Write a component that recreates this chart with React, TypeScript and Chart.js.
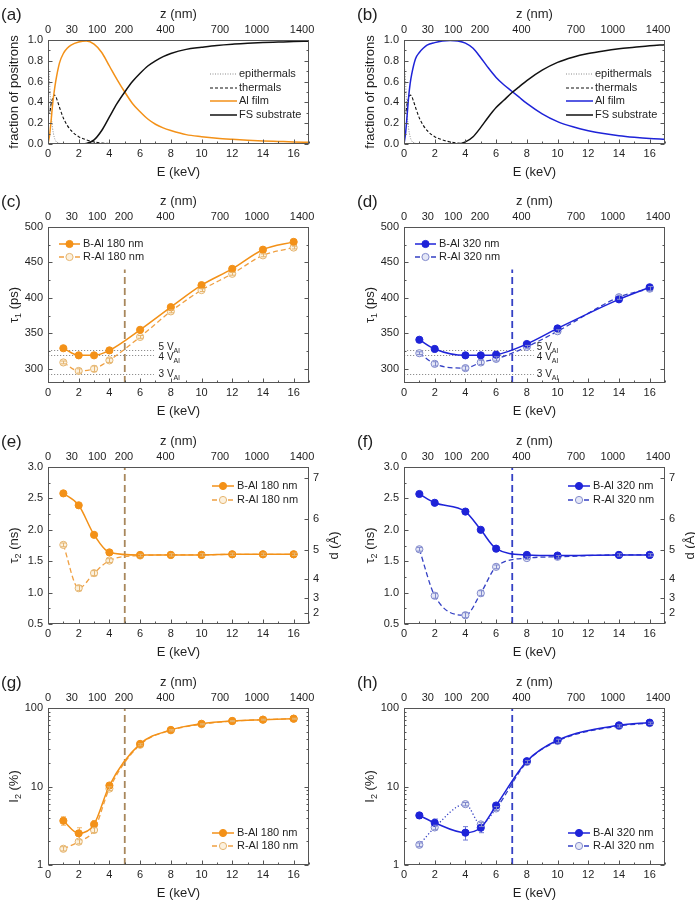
import React, { useEffect, useRef } from 'react';
import { Chart, registerables } from 'chart.js';

Chart.register(...registerables);

const FONT = '"Liberation Sans", Arial, Helvetica, sans-serif';
const TXT = '#1f1f1f';
const FRAME = '#555555';

Chart.defaults.font.family = FONT;
Chart.defaults.color = TXT;

// ---------------- colours ----------------
const ORANGE = '#F39118';
const ORANGE_DASH = '#F0A042';
const ORANGE_OPEN_STROKE = '#E5B570';
const ORANGE_OPEN_FILL = '#FCF1DE';
const ORANGE_ERR = '#F2B66A';
const BROWN = '#A8875C';
const BLUE = '#1E23D8';
const BLUE_DASH = '#3440C4';
const BLUE_OPEN_STROKE = '#8189CC';
const BLUE_OPEN_FILL = '#E4E7F6';
const BLUE_ERR = '#6F78D6';
const BLACK = '#111111';
const GREY = '#8A8A8A';

// ---------------- axis ticks ----------------
const xTickValues = [0, 2, 4, 6, 8, 10, 12, 14, 16];
const zTickLabels = ['0', '30', '100', '200', '400', '700', '1000', '1400'];
const zTickEnergy = [0, 1.55, 3.2, 4.95, 7.65, 11.2, 13.6, 16.55];
const fracTicks = [0, 0.2, 0.4, 0.6, 0.8, 1.0];
const tau1Ticks = [300, 350, 400, 450, 500];
const tau2Ticks = [0.5, 1.0, 1.5, 2.0, 2.5, 3.0];
const i2Ticks = [1, 10, 100];
const dTickLabels = ['2', '3', '4', '5', '6', '7'];
const dTickTau2 = [0.68, 0.91, 1.22, 1.68, 2.17, 2.83];

// ---------------- (a),(b) stopping fractions ----------------
const eEpi = [0, 0.05, 0.1, 0.2, 0.3, 0.4, 0.5, 0.7, 1.0, 2, 17];
const epithermals = [0.5, 0.72, 0.6, 0.3, 0.15, 0.07, 0.03, 0.01, 0.002, 0, 0];
const eTherm = [0, 0.05, 0.1, 0.2, 0.3, 0.4, 0.5, 0.6, 0.8, 1.0, 1.25, 1.5, 2, 2.5, 3, 3.5, 4, 5, 6, 17];
const thermals = [0.9, 0.3, 0.3, 0.38, 0.44, 0.47, 0.46, 0.42, 0.33, 0.25, 0.18, 0.13, 0.07, 0.04, 0.02, 0.01, 0.005, 0.002, 0, 0];
const eFrac = [0, 0.1, 0.2, 0.3, 0.4, 0.5, 0.75, 1, 1.25, 1.5, 2, 2.5, 3, 3.5, 4, 4.5, 5, 5.5, 6, 6.5, 7, 7.5, 8, 9, 10, 11, 12, 13, 14, 15, 16, 17];
const alFilm180 = [0, 0.08, 0.22, 0.38, 0.5, 0.6, 0.78, 0.87, 0.92, 0.95, 0.98, 0.99, 0.96, 0.88, 0.75, 0.62, 0.5, 0.39, 0.31, 0.24, 0.19, 0.155, 0.13, 0.09, 0.07, 0.055, 0.045, 0.037, 0.03, 0.025, 0.02, 0.017];
const fsSub180 = [0, 0, 0, 0, 0, 0, 0, 0, 0, 0, 0, 0.005, 0.04, 0.13, 0.26, 0.39, 0.5, 0.6, 0.68, 0.75, 0.8, 0.84, 0.87, 0.91, 0.93, 0.948, 0.96, 0.968, 0.975, 0.98, 0.985, 0.988];
const alFilm320 = [0, 0.1, 0.27, 0.45, 0.58, 0.67, 0.82, 0.88, 0.92, 0.95, 0.975, 0.99, 0.995, 0.99, 0.97, 0.92, 0.83, 0.73, 0.64, 0.57, 0.51, 0.45, 0.39, 0.29, 0.215, 0.165, 0.128, 0.1, 0.08, 0.065, 0.053, 0.045];
const fsSub320 = [0, 0, 0, 0, 0, 0, 0, 0, 0, 0, 0, 0, 0, 0, 0.02, 0.07, 0.16, 0.26, 0.35, 0.42, 0.49, 0.55, 0.61, 0.71, 0.785, 0.835, 0.87, 0.895, 0.915, 0.93, 0.945, 0.955];

// ---------------- (c)-(h) measured points ----------------
const e180 = [1, 2, 3, 4, 6, 8, 10, 12, 14, 16];
const e320 = [1, 2, 4, 5, 6, 8, 10, 14, 16];

const tau1B180 = [329, 319, 319, 326, 355, 387, 418, 441, 468, 479];
const tau1R180 = [309, 297, 300, 312, 345, 381, 411, 434, 460, 471];
const tau1B180Err = [2, 2, 2, 2, 2, 2, 2, 2, 2, 2];
const tau1R180Err = [2, 3, 4, 3, 2, 2, 2, 2, 2, 2];
const tau1B320 = [341, 328, 319, 319, 320, 335, 357, 398, 415];
const tau1R320 = [322, 307, 301, 309, 314, 331, 353, 401, 413];
const tau1B320Err = [2, 2, 2, 2, 2, 2, 2, 2, 2];
const tau1R320Err = [2, 3, 3, 3, 3, 2, 2, 3, 3];

const tau2B180 = [2.58, 2.39, 1.92, 1.64, 1.6, 1.6, 1.6, 1.61, 1.61, 1.61];
const tau2R180 = [1.76, 1.07, 1.31, 1.51, 1.59, 1.6, 1.6, 1.61, 1.61, 1.61];
const tau2B180Err = [0.02, 0.02, 0.02, 0.02, 0.02, 0.02, 0.02, 0.02, 0.02, 0.02];
const tau2R180Err = [0.03, 0.04, 0.04, 0.03, 0.02, 0.02, 0.02, 0.02, 0.02, 0.02];
const tau2B320 = [2.57, 2.43, 2.29, 2.0, 1.7, 1.6, 1.59, 1.6, 1.6];
const tau2R320 = [1.69, 0.95, 0.64, 0.99, 1.41, 1.55, 1.57, 1.6, 1.6];
const tau2B320Err = [0.02, 0.02, 0.02, 0.02, 0.02, 0.02, 0.02, 0.02, 0.02];
const tau2R320Err = [0.03, 0.04, 0.04, 0.04, 0.03, 0.02, 0.02, 0.02, 0.02];

const i2B180 = [3.66, 2.53, 3.29, 10.3, 34.9, 52.5, 63, 68.4, 71, 73.2];
const i2R180 = [1.61, 1.98, 2.79, 9.4, 34, 52, 62, 68, 71, 73];
const i2B180Err = [0.45, 0.45, 0.4, 0.5, 1, 1.2, 1.2, 1.2, 1.2, 1.2];
const i2R180Err = [0.1, 0.12, 0.2, 0.5, 1, 1, 1, 1, 1, 1];
const i2B320 = [4.28, 3.45, 2.58, 2.98, 5.73, 21, 38.8, 60.2, 65.1];
const i2R320 = [1.81, 3.01, 5.96, 3.29, 5.25, 20.5, 38, 59, 64];
const i2B320Err = [0.35, 0.4, 0.5, 0.4, 0.3, 1.5, 3, 3, 3];
const i2R320Err = [0.1, 0.2, 0.3, 0.2, 0.3, 1, 2, 2, 2];

// interface energies and vacancy-cluster reference lifetimes
const interface180 = 5;
const interface320 = 7.05;
const vacancyTau = [326, 320, 292];
const vacancyLabels = ['5', '4', '3'];

// ---------------- layout (page px) ----------------
const COLS = [
  { cx: 0, cw: 345, pl: 48, pr: 309 },
  { cx: 345, cw: 350, pl: 404, pr: 665 },
];
const ROWS = [
  { cy: 0, ch: 200, pt: 40, pb: 144 },
  { cy: 180, ch: 245, pt: 227, pb: 383 },
  { cy: 420, ch: 245, pt: 467, pb: 624 },
  { cy: 660, ch: 245, pt: 708, pb: 865 },
];

type Part = { t: string; sub?: boolean };

const fracSeries = (film: number[], filmColor: string, fs: number[]) => [
  { label: 'epithermals', xs: eEpi, ys: epithermals, color: GREY, width: 1, dash: [1, 1.5], order: 3 },
  { label: 'thermals', xs: eTherm, ys: thermals, color: BLACK, width: 1.1, dash: [3, 2], order: 2 },
  { label: 'Al film', xs: eFrac, ys: film, color: filmColor, width: 1.5, order: 1 },
  { label: 'FS substrate', xs: eFrac, ys: fs, color: BLACK, width: 1.5, order: 0 },
];

const bSeries = (label: string, xs: number[], ys: number[], err: number[], color: string, errColor: string) => ({
  label, xs, ys, err, color, width: 1.5, point: { fill: color, stroke: color, r: 3.6 }, errColor, errOnTop: false, order: 0,
});
const rSeries = (label: string, xs: number[], ys: number[], err: number[], lineColor: string, stroke: string, fill: string, dotBelow?: number) => ({
  label, xs, ys, err, color: lineColor, width: 1.3, dash: [5, 3], point: { fill, stroke, r: 3.6 }, errColor: stroke, errOnTop: true, order: 1, dotBelow,
});

const tau1Title: Part[] = [{ t: 'τ' }, { t: '1', sub: true }, { t: ' (ps)' }];
const tau2Title: Part[] = [{ t: 'τ' }, { t: '2', sub: true }, { t: ' (ns)' }];
const i2Title: Part[] = [{ t: 'I' }, { t: '2', sub: true }, { t: ' (%)' }];

const fmt1 = (v: number) => v.toFixed(1);
const fmt0 = (v: number) => String(v);

const PANELS: any[] = [
  {
    key: 'a', letter: '(a)', col: 0, row: 0, yType: 'linear', yMin: 0, yMax: 1, yTicks: fracTicks, yFmt: fmt1,
    yTitle: [{ t: 'fraction of positrons' }],
    series: fracSeries(alFilm180, ORANGE, fsSub180),
    legend: { anchor: 'right', sx0: -99, sx1: -72, tx: -70, rows: [34, 48, 61, 75] },
  },
  {
    key: 'b', letter: '(b)', col: 1, row: 0, yType: 'linear', yMin: 0, yMax: 1, yTicks: fracTicks, yFmt: fmt1,
    yTitle: [{ t: 'fraction of positrons' }],
    series: fracSeries(alFilm320, BLUE, fsSub320),
    legend: { anchor: 'right', sx0: -99, sx1: -72, tx: -70, rows: [34, 48, 61, 75] },
  },
  {
    key: 'c', letter: '(c)', col: 0, row: 1, yType: 'linear', yMin: 280, yMax: 500, yTicks: tau1Ticks, yFmt: fmt0,
    yTitle: tau1Title,
    series: [
      bSeries('B-Al 180 nm', e180, tau1B180, tau1B180Err, ORANGE, ORANGE_ERR),
      rSeries('R-Al 180 nm', e180, tau1R180, tau1R180Err, ORANGE_DASH, ORANGE_OPEN_STROKE, ORANGE_OPEN_FILL),
    ],
    legend: { anchor: 'left', sx0: 11, sx1: 32, tx: 35, rows: [17, 30] },
    vline: { e: interface180, color: BROWN, top: 440 },
    ref: { values: vacancyTau, labels: vacancyLabels, endE: 6.9, labelE: 7.2, nudge: [-3, 3, 0] },
  },
  {
    key: 'd', letter: '(d)', col: 1, row: 1, yType: 'linear', yMin: 280, yMax: 500, yTicks: tau1Ticks, yFmt: fmt0,
    yTitle: tau1Title,
    series: [
      bSeries('B-Al 320 nm', e320, tau1B320, tau1B320Err, BLUE, BLUE_ERR),
      rSeries('R-Al 320 nm', e320, tau1R320, tau1R320Err, BLUE_DASH, BLUE_OPEN_STROKE, BLUE_OPEN_FILL),
    ],
    legend: { anchor: 'left', sx0: 11, sx1: 32, tx: 35, rows: [17, 30] },
    vline: { e: interface320, color: BLUE_DASH, top: 440 },
    ref: { values: vacancyTau, labels: vacancyLabels, endE: 8.45, labelE: 8.65, nudge: [-3, 3, 0] },
  },
  {
    key: 'e', letter: '(e)', col: 0, row: 2, yType: 'linear', yMin: 0.5, yMax: 3.0, yTicks: tau2Ticks, yFmt: fmt1,
    yTitle: tau2Title, dAxis: true,
    series: [
      bSeries('B-Al 180 nm', e180, tau2B180, tau2B180Err, ORANGE, ORANGE_ERR),
      rSeries('R-Al 180 nm', e180, tau2R180, tau2R180Err, ORANGE_DASH, ORANGE_OPEN_STROKE, ORANGE_OPEN_FILL),
    ],
    legend: { anchor: 'right', sx0: -97, sx1: -75, tx: -72, rows: [19, 33] },
    vline: { e: interface180, color: BROWN },
  },
  {
    key: 'f', letter: '(f)', col: 1, row: 2, yType: 'linear', yMin: 0.5, yMax: 3.0, yTicks: tau2Ticks, yFmt: fmt1,
    yTitle: tau2Title, dAxis: true,
    series: [
      bSeries('B-Al 320 nm', e320, tau2B320, tau2B320Err, BLUE, BLUE_ERR),
      rSeries('R-Al 320 nm', e320, tau2R320, tau2R320Err, BLUE_DASH, BLUE_OPEN_STROKE, BLUE_OPEN_FILL),
    ],
    legend: { anchor: 'right', sx0: -97, sx1: -75, tx: -72, rows: [19, 33] },
    vline: { e: interface320, color: BLUE_DASH },
  },
  {
    key: 'g', letter: '(g)', col: 0, row: 3, yType: 'logarithmic', yMin: 1, yMax: 100, yTicks: i2Ticks, yFmt: fmt0,
    yTitle: i2Title,
    series: [
      bSeries('B-Al 180 nm', e180, i2B180, i2B180Err, ORANGE, ORANGE_ERR),
      rSeries('R-Al 180 nm', e180, i2R180, i2R180Err, ORANGE_DASH, ORANGE_OPEN_STROKE, ORANGE_OPEN_FILL),
    ],
    legend: { anchor: 'right', sx0: -97, sx1: -75, tx: -72, rows: [125, 138] },
    vline: { e: interface180, color: BROWN },
  },
  {
    key: 'h', letter: '(h)', col: 1, row: 3, yType: 'logarithmic', yMin: 1, yMax: 100, yTicks: i2Ticks, yFmt: fmt0,
    yTitle: i2Title,
    series: [
      bSeries('B-Al 320 nm', e320, i2B320, i2B320Err, BLUE, BLUE_ERR),
      rSeries('R-Al 320 nm', e320, i2R320, i2R320Err, BLUE_DASH, BLUE_OPEN_STROKE, BLUE_OPEN_FILL, 6),
    ],
    legend: { anchor: 'right', sx0: -97, sx1: -75, tx: -72, rows: [125, 138] },
    vline: { e: interface320, color: BLUE_DASH },
  },
];

// ---------------- drawing helpers ----------------
function drawRich(ctx: CanvasRenderingContext2D, parts: Part[], x: number, y: number, size: number, rotate: boolean, align: 'center' | 'left') {
  const main = `${size}px ${FONT}`;
  const small = `${Math.round(size * 0.72)}px ${FONT}`;
  let w = 0;
  for (const p of parts) {
    ctx.font = p.sub ? small : main;
    w += ctx.measureText(p.t).width;
  }
  ctx.save();
  ctx.translate(x, y);
  if (rotate) ctx.rotate(-Math.PI / 2);
  ctx.fillStyle = TXT;
  ctx.textAlign = 'left';
  ctx.textBaseline = 'middle';
  let cx = align === 'center' ? -w / 2 : 0;
  for (const p of parts) {
    ctx.font = p.sub ? small : main;
    ctx.fillText(p.t, cx, p.sub ? size * 0.32 : 0);
    cx += ctx.measureText(p.t).width;
  }
  ctx.restore();
}

function minorOf(major: number[], min: number, max: number) {
  const step = major[1] - major[0];
  const out: number[] = [];
  for (let v = major[0] - step / 2; v <= max + 1e-9; v += step) if (v >= min - 1e-9) out.push(v);
  return out;
}

function drawErrors(chart: any, spec: any, onTop: boolean) {
  const { ctx } = chart;
  const ys = chart.scales.y;
  spec.series.forEach((s: any, i: number) => {
    if (!s.err || !!s.errOnTop !== onTop) return;
    const meta = chart.getDatasetMeta(i);
    ctx.save();
    ctx.setLineDash([]);
    ctx.strokeStyle = s.errColor || s.color;
    ctx.lineWidth = 1;
    s.err.forEach((e: number, j: number) => {
      const pt = meta.data[j];
      if (!e || !pt) return;
      const v = s.ys[j];
      const lo = v - e > 0 ? v - e : ys.min;
      const yHi = ys.getPixelForValue(v + e);
      const yLo = ys.getPixelForValue(lo);
      const x = Math.round(pt.x) + 0.5;
      ctx.beginPath();
      ctx.moveTo(x, yHi); ctx.lineTo(x, yLo);
      ctx.moveTo(x - 2.5, yHi); ctx.lineTo(x + 2.5, yHi);
      ctx.moveTo(x - 2.5, yLo); ctx.lineTo(x + 2.5, yLo);
      ctx.stroke();
    });
    ctx.restore();
  });
}

function drawFrameAndTicks(chart: any, spec: any) {
  const { ctx, chartArea: a, scales } = chart;
  const xs = scales.x, ys = scales.y;
  ctx.save();
  ctx.setLineDash([]);
  ctx.strokeStyle = FRAME;
  ctx.lineWidth = 1;
  const L = a.left + 0.5, R = a.right - 0.5, T = a.top + 0.5, B = a.bottom - 0.5;
  ctx.strokeRect(L, T, R - L, B - T);
  ctx.beginPath();
  // x ticks (bottom, inward)
  const xMaj = xTickValues;
  const xMin = minorOf(xMaj, xs.min, xs.max);
  for (const v of xMaj) { const x = Math.round(xs.getPixelForValue(v)) + 0.5; ctx.moveTo(x, B); ctx.lineTo(x, B - 4); }
  for (const v of xMin) { const x = Math.round(xs.getPixelForValue(v)) + 0.5; ctx.moveTo(x, B); ctx.lineTo(x, B - 2); }
  // y ticks
  const yMaj: number[] = spec.yTicks;
  let yMin: number[];
  if (spec.yType === 'logarithmic') {
    yMin = [];
    for (const d of [1, 10]) for (let k = 2; k <= 9; k++) yMin.push(d * k);
  } else yMin = minorOf(yMaj, spec.yMin, spec.yMax);
  for (const v of yMaj) {
    const y = Math.round(ys.getPixelForValue(v)) + 0.5;
    ctx.moveTo(L, y); ctx.lineTo(L + 4, y);
    if (!spec.dAxis) { ctx.moveTo(R, y); ctx.lineTo(R - 4, y); }
  }
  for (const v of yMin) {
    const y = Math.round(ys.getPixelForValue(v)) + 0.5;
    ctx.moveTo(L, y); ctx.lineTo(L + 2, y);
    if (!spec.dAxis) { ctx.moveTo(R, y); ctx.lineTo(R - 2, y); }
  }
  if (spec.dAxis) {
    for (const v of dTickTau2) { const y = Math.round(ys.getPixelForValue(v)) + 0.5; ctx.moveTo(R, y); ctx.lineTo(R - 4, y); }
  }
  ctx.stroke();
  ctx.restore();
}

function drawLegend(ctx: CanvasRenderingContext2D, spec: any, a: any) {
  const Lg = spec.legend;
  const base = Lg.anchor === 'left' ? a.left : a.right;
  spec.series.forEach((s: any, i: number) => {
    const y = a.top + Lg.rows[i];
    const x0 = base + Lg.sx0, x1 = base + Lg.sx1;
    ctx.save();
    ctx.strokeStyle = s.color;
    ctx.lineWidth = s.width;
    ctx.setLineDash(s.dash || []);
    ctx.beginPath(); ctx.moveTo(x0, y); ctx.lineTo(x1, y); ctx.stroke();
    if (s.point) {
      ctx.setLineDash([]);
      ctx.beginPath();
      ctx.arc((x0 + x1) / 2, y, s.point.r, 0, Math.PI * 2);
      ctx.fillStyle = s.point.fill; ctx.fill();
      ctx.lineWidth = 1; ctx.strokeStyle = s.point.stroke; ctx.stroke();
    }
    ctx.fillStyle = TXT;
    ctx.font = `11px ${FONT}`;
    ctx.textAlign = 'left';
    ctx.textBaseline = 'middle';
    ctx.fillText(s.label, base + Lg.tx, y);
    ctx.restore();
  });
}

function makeDecor(spec: any) {
  return {
    id: 'decor',
    beforeDatasetsDraw(chart: any) {
      const { ctx, chartArea: a, scales } = chart;
      const xs = scales.x, ys = scales.y;
      ctx.save();
      if (spec.ref) {
        ctx.strokeStyle = '#8f8f8f';
        ctx.lineWidth = 1;
        ctx.setLineDash([1.2, 1.8]);
        const xEnd = xs.getPixelForValue(spec.ref.endE);
        ctx.beginPath();
        for (const v of spec.ref.values) {
          const y = Math.round(ys.getPixelForValue(v)) + 0.5;
          ctx.moveTo(a.left, y); ctx.lineTo(xEnd, y);
        }
        ctx.stroke();
      }
      if (spec.vline) {
        ctx.setLineDash([7, 4]);
        ctx.strokeStyle = spec.vline.color;
        ctx.lineWidth = 1.8;
        const x = xs.getPixelForValue(spec.vline.e);
        const yTop = spec.vline.top != null ? ys.getPixelForValue(spec.vline.top) : a.top;
        ctx.beginPath(); ctx.moveTo(x, a.bottom); ctx.lineTo(x, yTop); ctx.stroke();
      }
      ctx.restore();
      drawErrors(chart, spec, false);
    },
    afterDatasetsDraw(chart: any) {
      drawErrors(chart, spec, true);
      drawFrameAndTicks(chart, spec);
    },
    afterDraw(chart: any) {
      const { ctx, chartArea: a, scales } = chart;
      const cx = (a.left + a.right) / 2;
      const cy = (a.top + a.bottom) / 2;
      ctx.save();
      ctx.fillStyle = TXT;
      ctx.textBaseline = 'middle';
      ctx.textAlign = 'left';
      ctx.font = `17px ${FONT}`;
      ctx.fillText(spec.letter, a.left - 47, a.top - 25);
      ctx.textAlign = 'center';
      ctx.font = `13px ${FONT}`;
      ctx.fillText('z (nm)', cx, a.top - 26);
      ctx.fillText('E (keV)', cx, a.bottom + 28);
      ctx.restore();
      drawRich(ctx, spec.yTitle, a.left - 34, cy, 13, true, 'center');
      if (spec.dAxis) drawRich(ctx, [{ t: 'd (Å)' }], a.right + 25, cy, 13, true, 'center');
      if (spec.ref) {
        const xs = scales.x, ys = scales.y;
        spec.ref.values.forEach((v: number, i: number) => {
          drawRich(ctx, [{ t: spec.ref.labels[i] + ' V' }, { t: 'Al', sub: true }], xs.getPixelForValue(spec.ref.labelE), ys.getPixelForValue(v) + spec.ref.nudge[i], 10, false, 'left');
        });
      }
      drawLegend(ctx, spec, a);
    },
  };
}

function toDataset(s: any) {
  return {
    label: s.label,
    data: s.xs.map((x: number, i: number) => ({ x, y: s.ys[i] })),
    xAxisID: 'x',
    yAxisID: 'y',
    borderColor: s.color,
    backgroundColor: s.color,
    borderWidth: s.width,
    borderDash: s.dash || [],
    pointRadius: s.point ? s.point.r : 0,
    pointHoverRadius: 0,
    pointBackgroundColor: s.point ? s.point.fill : s.color,
    pointBorderColor: s.point ? s.point.stroke : s.color,
    pointBorderWidth: s.point ? 1 : 0,
    cubicInterpolationMode: 'monotone',
    fill: false,
    order: s.order ?? 0,
    segment: s.dotBelow
      ? { borderDash: (c: any) => (c.p1.parsed.x <= s.dotBelow ? [1.2, 2.2] : undefined) }
      : undefined,
  };
}

function buildConfig(spec: any) {
  const col = COLS[spec.col];
  const row = ROWS[spec.row];
  const leftW = col.pl - col.cx;
  const rightW = col.cx + col.cw - col.pr;
  const topH = row.pt - row.cy;
  const bottomH = row.cy + row.ch - row.pb;
  const tickFont = { family: FONT, size: 11 };
  const setTicks = (vals: number[]) => (s: any) => { s.ticks = vals.map((v) => ({ value: v })); };
  const common = {
    grid: { display: false, drawTicks: false },
    border: { display: false },
  };
  const scales: any = {
    x: {
      ...common, type: 'linear', position: 'bottom', min: 0, max: 17,
      ticks: { font: tickFont, color: TXT, padding: 3, autoSkip: false, maxRotation: 0, callback: (v: number) => String(v) },
      afterBuildTicks: setTicks(xTickValues),
      afterFit: (s: any) => { s.height = bottomH; },
    },
    xTop: {
      ...common, type: 'linear', position: 'top', min: 0, max: 17,
      ticks: { font: tickFont, color: TXT, padding: 3, autoSkip: false, maxRotation: 0, callback: (_v: number, i: number) => zTickLabels[i] },
      afterBuildTicks: setTicks(zTickEnergy),
      afterFit: (s: any) => { s.height = topH; },
    },
    y: {
      ...common, type: spec.yType, position: 'left', min: spec.yMin, max: spec.yMax,
      ticks: { font: tickFont, color: TXT, padding: 5, autoSkip: false, callback: (v: number) => spec.yFmt(v) },
      afterBuildTicks: setTicks(spec.yTicks),
      afterFit: (s: any) => { s.width = leftW; },
    },
  };
  if (spec.dAxis) {
    scales.y2 = {
      ...common, type: 'linear', position: 'right', min: spec.yMin, max: spec.yMax,
      ticks: { font: tickFont, color: TXT, padding: 4, autoSkip: false, callback: (_v: number, i: number) => dTickLabels[i] },
      afterBuildTicks: setTicks(dTickTau2),
      afterFit: (s: any) => { s.width = rightW; },
    };
  }
  return {
    type: 'line',
    data: { datasets: spec.series.map(toDataset) },
    options: {
      animation: false,
      responsive: false,
      maintainAspectRatio: false,
      events: [],
      layout: { padding: { left: 0, top: 0, bottom: 0, right: spec.dAxis ? 0 : rightW } },
      plugins: { legend: { display: false }, tooltip: { enabled: false }, title: { display: false } },
      scales,
    },
    plugins: [makeDecor(spec)],
  };
}

function Panel({ spec }: { spec: any }) {
  const ref = useRef<HTMLCanvasElement>(null);
  const col = COLS[spec.col];
  const row = ROWS[spec.row];
  useEffect(() => {
    const chart = new Chart(ref.current as HTMLCanvasElement, buildConfig(spec) as any);
    return () => chart.destroy();
  }, [spec]);
  return (
    <canvas
      ref={ref}
      width={col.cw}
      height={row.ch}
      style={{ position: 'absolute', left: col.cx, top: row.cy, width: col.cw, height: row.ch }}
    />
  );
}

export default function App() {
  return (
    <div style={{ position: 'absolute', left: 0, top: 0, width: 695, height: 905, background: '#ffffff', overflow: 'hidden' }}>
      {PANELS.map((p) => (
        <Panel key={p.key} spec={p} />
      ))}
    </div>
  );
}
